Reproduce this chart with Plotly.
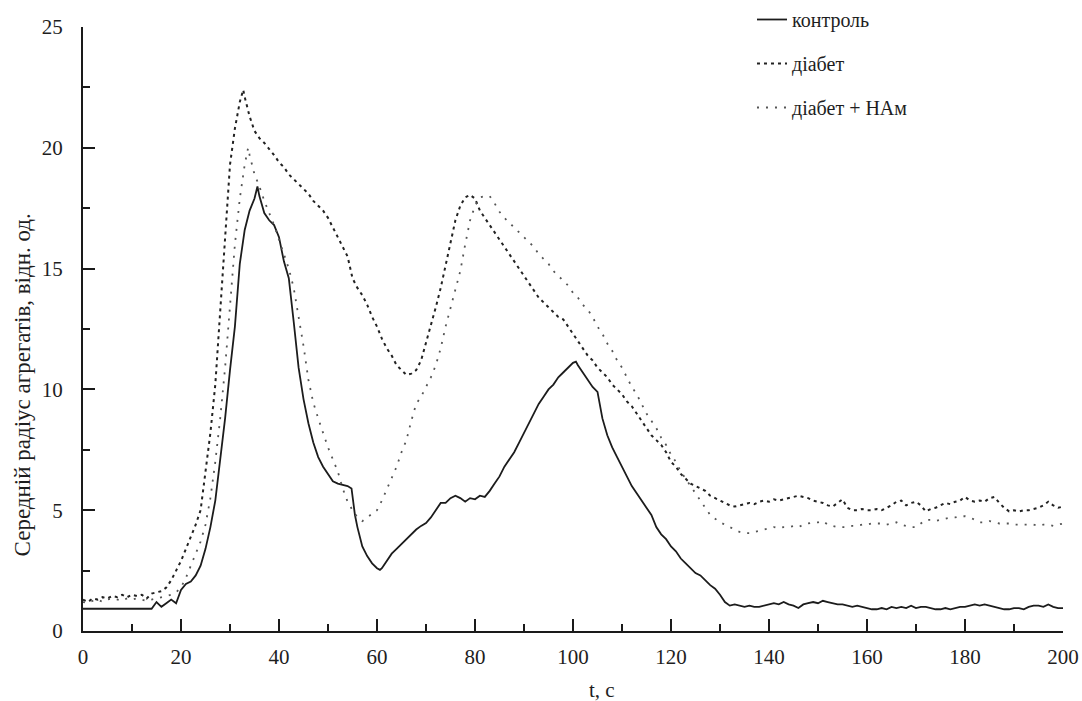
import plotly.graph_objects as go

# ---- data ----
t_control = [0, 2, 4, 6, 8, 10, 12, 14, 15, 16, 17, 18, 19, 20, 21, 22, 23, 24, 25, 26, 27, 28, 29, 30,
             31, 32, 33, 34, 35, 35.6, 36, 37, 38, 39, 40, 41, 42, 43, 44, 45, 46, 47, 48, 49, 50, 51, 52,
             53, 54, 54.8, 55.5, 56, 57, 58, 59, 60, 60.6, 61, 62, 63, 64, 65, 66, 67, 68, 69, 70, 71, 72,
             73, 74, 75, 76, 77, 78, 79, 80, 81, 82, 83, 84, 85, 86, 87, 88, 89, 90, 91, 92, 93, 94, 95,
             96, 97, 98, 99, 100, 100.6, 101, 102, 103, 104, 105, 106, 107, 108, 109, 110, 111, 112, 113,
             114, 115, 116, 117, 118, 119, 120, 121, 122, 123, 124, 125, 126, 127, 128, 129, 130, 131, 132,
             133, 134, 135, 136, 137, 138, 139, 140, 141, 142, 143, 144, 145, 146, 147, 148, 149, 150, 151,
             152, 153, 154, 155, 156, 157, 158, 159, 160, 161, 162, 163, 164, 165, 166, 167, 168, 169, 170,
             171, 172, 173, 174, 175, 176, 177, 178, 179, 180, 181, 182, 183, 184, 185, 186, 187, 188, 189,
             190, 191, 192, 193, 194, 195, 196, 197, 198, 199, 200]
v_control = [0.92, 0.92, 0.92, 0.92, 0.92, 0.92, 0.92, 0.92, 1.2, 1.0, 1.15, 1.3, 1.15, 1.7, 1.95, 2.05, 2.3,
             2.7, 3.4, 4.3, 5.4, 7.0, 8.8, 10.8, 12.6, 15.2, 16.6, 17.4, 17.9, 18.4, 18.0, 17.3, 17.0, 16.8,
             16.3, 15.3, 14.6, 12.8, 10.9, 9.6, 8.6, 7.8, 7.2, 6.8, 6.5, 6.2, 6.1, 6.05, 6.0, 5.9, 4.8, 4.3,
             3.5, 3.1, 2.8, 2.6, 2.53, 2.6, 2.9, 3.2, 3.4, 3.6, 3.8, 4.0, 4.2, 4.35, 4.47, 4.7, 5.0, 5.3,
             5.3, 5.5, 5.6, 5.5, 5.35, 5.5, 5.45, 5.6, 5.55, 5.8, 6.1, 6.4, 6.8, 7.1, 7.4, 7.8, 8.2, 8.6,
             9.0, 9.4, 9.7, 10.0, 10.2, 10.5, 10.7, 10.9, 11.1, 11.15, 11.0, 10.7, 10.4, 10.1, 9.9, 8.8,
             8.1, 7.6, 7.2, 6.8, 6.4, 6.0, 5.7, 5.4, 5.1, 4.8, 4.3, 4.0, 3.8, 3.5, 3.3, 3.0, 2.8, 2.6, 2.4,
             2.3, 2.1, 1.9, 1.75, 1.5, 1.2, 1.05, 1.1, 1.05, 1.0, 1.05, 1.0, 1.0, 1.05, 1.1, 1.15, 1.1, 1.2,
             1.1, 1.05, 0.95, 1.1, 1.15, 1.2, 1.15, 1.25, 1.2, 1.15, 1.1, 1.1, 1.05, 1.0, 1.05, 1.0, 0.95,
             0.9, 0.9, 0.95, 0.9, 1.0, 0.95, 1.0, 0.95, 1.05, 0.95, 1.0, 1.0, 0.95, 0.9, 0.9, 0.95, 0.9,
             0.95, 1.0, 1.0, 1.05, 1.1, 1.05, 1.1, 1.05, 1.0, 0.95, 0.9, 0.9, 0.95, 0.95, 0.9, 1.0, 1.05,
             1.05, 1.0, 1.1, 1.0, 0.95, 0.95]

t_diabet = [0, 1, 2, 3, 4, 5, 6, 7, 8, 9, 10, 11, 12, 13, 14, 15, 16, 17, 18, 19, 20, 21, 22, 23, 24, 25,
            26, 27, 28, 29, 30, 31, 32, 32.7, 33, 34, 35, 36, 37, 38, 39, 40, 41, 42, 43, 44, 45, 46, 47, 48,
            49, 50, 51, 52, 53, 54, 55, 56, 57, 58, 59, 60, 61, 62, 63, 64, 65, 66, 67, 68, 69, 70, 71, 72,
            73, 74, 75, 76, 77, 78, 79, 80, 81, 82, 83, 84, 85, 86, 87, 88, 89, 90, 91, 92, 93, 94, 95, 96,
            97, 98, 99, 100, 101, 102, 103, 104, 105, 106, 107, 108, 109, 110, 111, 112, 113, 114, 115, 116,
            117, 118, 119, 120, 121, 122, 123, 124, 125, 126, 127, 128, 129, 130, 131, 132, 133, 134, 135,
            136, 137, 138, 139, 140, 141, 142, 143, 144, 145, 146, 147, 148, 149, 150, 151, 152, 153, 154,
            155, 156, 157, 158, 159, 160, 161, 162, 163, 164, 165, 166, 167, 168, 169, 170, 171, 172, 173,
            174, 175, 176, 177, 178, 179, 180, 181, 182, 183, 184, 185, 186, 187, 188, 189, 190, 191, 192,
            193, 194, 195, 196, 197, 198, 199, 200]
v_diabet = [1.3, 1.2, 1.35, 1.3, 1.4, 1.35, 1.45, 1.4, 1.5, 1.4, 1.5, 1.45, 1.5, 1.35, 1.55, 1.6, 1.65,
            1.8, 2.1, 2.5, 2.9, 3.4, 3.9, 4.4, 5.0, 6.5, 8.2, 10.2, 13.2, 16.5, 19.3, 20.8, 21.9, 22.4,
            22.1, 21.3, 20.7, 20.4, 20.2, 19.95, 19.7, 19.4, 19.2, 18.9, 18.7, 18.5, 18.3, 18.1, 17.8,
            17.6, 17.4, 17.1, 16.7, 16.3, 15.9, 15.5, 14.6, 14.2, 13.9, 13.5, 13.0, 12.6, 12.1, 11.7,
            11.4, 11.0, 10.8, 10.6, 10.65, 10.8, 11.2, 11.9, 12.7, 13.4, 14.2, 15.1, 16.1, 17.0, 17.6,
            17.95, 18.05, 17.9, 17.4, 17.1, 16.8, 16.5, 16.2, 15.9, 15.6, 15.3, 15.0, 14.7, 14.4, 14.1,
            13.8, 13.6, 13.4, 13.2, 13.0, 12.9, 12.6, 12.3, 12.0, 11.7, 11.4, 11.2, 10.9, 10.7, 10.5,
            10.2, 10.0, 9.8, 9.5, 9.3, 9.0, 8.7, 8.4, 8.1, 7.9, 7.7, 7.4, 7.0, 6.8, 6.5, 6.3, 6.1, 6.0,
            5.9, 5.8, 5.6, 5.5, 5.4, 5.3, 5.2, 5.15, 5.2, 5.25, 5.3, 5.25, 5.35, 5.4, 5.35, 5.45, 5.4,
            5.45, 5.5, 5.55, 5.6, 5.55, 5.5, 5.4, 5.35, 5.3, 5.2, 5.15, 5.3, 5.45, 5.1, 5.0, 5.0, 5.05,
            5.0, 5.0, 5.05, 5.0, 5.1, 5.2, 5.35, 5.4, 5.2, 5.3, 5.35, 5.2, 4.95, 5.05, 5.1, 5.2, 5.3,
            5.25, 5.35, 5.4, 5.55, 5.4, 5.35, 5.4, 5.35, 5.5, 5.55, 5.3, 5.1, 4.95, 5.0, 4.95, 5.0, 5.0,
            5.05, 5.1, 5.2, 5.35, 5.2, 5.1, 5.15]

t_nam = [0, 1, 2, 3, 4, 5, 6, 7, 8, 9, 10, 11, 12, 13, 14, 15, 16, 17, 18, 19, 20, 21, 22, 23, 24, 25, 26,
         27, 28, 29, 30, 31, 32, 33, 33.7, 34, 35, 36, 37, 38, 39, 40, 41, 42, 43, 44, 45, 46, 47, 48, 49,
         50, 51, 52, 53, 54, 55, 56, 57, 58, 59, 60, 61, 62, 63, 64, 65, 66, 67, 68, 69, 70, 71, 72, 73,
         74, 75, 76, 77, 78, 79, 80, 81, 82, 83, 84, 85, 86, 87, 88, 89, 90, 91, 92, 93, 94, 95, 96, 97,
         98, 99, 100, 101, 102, 103, 104, 105, 106, 107, 108, 109, 110, 111, 112, 113, 114, 115, 116, 117,
         118, 119, 120, 121, 122, 123, 124, 125, 126, 127, 128, 129, 130, 131, 132, 133, 134, 135, 136,
         137, 138, 139, 140, 141, 142, 143, 144, 145, 146, 147, 148, 149, 150, 151, 152, 153, 154, 155,
         156, 157, 158, 159, 160, 161, 162, 163, 164, 165, 166, 167, 168, 169, 170, 171, 172, 173, 174,
         175, 176, 177, 178, 179, 180, 181, 182, 183, 184, 185, 186, 187, 188, 189, 190, 191, 192, 193,
         194, 195, 196, 197, 198, 199, 200]
v_nam = [1.2, 1.15, 1.25, 1.3, 1.2, 1.3, 1.35, 1.3, 1.25, 1.35, 1.3, 1.35, 1.3, 1.25, 1.3, 1.35, 1.4, 1.45,
         1.5, 1.6, 1.8, 2.2, 2.7, 3.2, 3.7, 4.4, 5.5, 7.0, 8.8, 10.9, 13.6, 16.0, 17.9, 19.3, 20.0, 19.7,
         18.9, 18.4, 17.8, 17.3, 16.8, 16.2, 15.6, 15.0, 14.2, 13.0, 11.8, 10.4, 9.45, 8.8, 8.2, 7.6, 7.1,
         6.6, 5.9, 5.35, 5.0, 4.7, 4.55, 4.7, 4.85, 5.0, 5.4, 5.85, 6.3, 6.8, 7.4, 7.9, 8.7, 9.4, 9.7,
         10.1, 10.5, 11.0, 11.7, 12.6, 13.4, 14.1, 14.9, 16.0, 17.0, 17.6, 17.95, 18.0, 18.0, 17.7, 17.35,
         17.1, 16.9, 16.7, 16.5, 16.3, 16.1, 15.9, 15.6, 15.4, 15.2, 14.9, 14.7, 14.5, 14.3, 14.0, 13.8,
         13.5, 13.3, 13.0, 12.6, 12.3, 11.9, 11.6, 11.2, 10.9, 10.5, 10.1, 9.8, 9.4, 9.0, 8.7, 8.4, 8.0,
         7.7, 7.3, 7.0, 6.6, 6.3, 6.0, 5.7, 5.4, 5.1, 4.8, 4.65, 4.5, 4.4, 4.3, 4.2, 4.1, 4.05, 4.05, 4.1,
         4.15, 4.2, 4.25, 4.3, 4.25, 4.3, 4.3, 4.35, 4.3, 4.4, 4.45, 4.5, 4.5, 4.55, 4.4, 4.35, 4.3, 4.3,
         4.3, 4.35, 4.35, 4.4, 4.4, 4.45, 4.45, 4.45, 4.4, 4.45, 4.5, 4.4, 4.35, 4.3, 4.3, 4.45, 4.6, 4.6,
         4.55, 4.6, 4.65, 4.7, 4.7, 4.75, 4.75, 4.7, 4.6, 4.5, 4.5, 4.55, 4.5, 4.45, 4.45, 4.45, 4.4, 4.4,
         4.4, 4.4, 4.4, 4.35, 4.4, 4.4, 4.35, 4.4, 4.45]

series_names = ["контроль", "діабет", "діабет + НАм"]
x_ticks = [0, 20, 40, 60, 80, 100, 120, 140, 160, 180, 200]
y_ticks = [0, 5, 10, 15, 20, 25]
x_title = "t, c"
y_title = "Середній радіус агрегатів, відн. од."

FONT = "Liberation Serif"
INK = "#1e1e1e"

fig = go.Figure()
fig.add_trace(go.Scatter(x=t_control, y=v_control, mode="lines", name=series_names[0],
                         legendgroup="a", line=dict(color="#1c1c1c", width=1.8)))
fig.add_trace(go.Scatter(x=t_diabet, y=v_diabet, mode="lines", name=series_names[1],
                         legendgroup="b", line=dict(color="#222222", width=2, dash="3px,4px")))
fig.add_trace(go.Scatter(x=t_nam, y=v_nam, mode="lines", name=series_names[2],
                         legendgroup="c", line=dict(color="#555555", width=1.8, dash="2px,7px")))

fig.update_layout(
    width=1082, height=701,
    margin=dict(l=83, r=19, t=27, b=70, autoexpand=False),
    paper_bgcolor="white", plot_bgcolor="white",
    font=dict(family=FONT, size=20, color=INK),
    showlegend=True,
    legend=dict(xref="container", yref="container", x=0.695, y=1.0, xanchor="left", yanchor="top",
                bgcolor="rgba(0,0,0,0)", font=dict(family=FONT, size=20, color=INK),
                traceorder="grouped", tracegroupgap=15),
    xaxis=dict(range=[0, 200], tickvals=x_ticks, showgrid=False, zeroline=False, automargin=False,
               showline=True, linecolor="#1a1a1a", linewidth=2,
               ticks="inside", ticklen=12, tickwidth=2, tickcolor="#1a1a1a",
               minor=dict(dtick=10, tick0=0, ticks="inside", ticklen=7, tickwidth=2, tickcolor="#1a1a1a"),
               ticklabelstandoff=6, tickfont=dict(family=FONT, size=21)),
    yaxis=dict(range=[0, 25], tickvals=y_ticks, showgrid=False, zeroline=False, automargin=False,
               showline=True, linecolor="#1a1a1a", linewidth=2,
               ticks="inside", ticklen=12, tickwidth=2, tickcolor="#1a1a1a",
               minor=dict(dtick=2.5, tick0=0, ticks="inside", ticklen=7, tickwidth=2, tickcolor="#1a1a1a"),
               ticklabelstandoff=14, tickfont=dict(family=FONT, size=21)),
)

fig.add_annotation(text=y_title, textangle=-90,
                   xref="paper", yref="paper", x=-0.062, y=0.407, xanchor="center", yanchor="middle",
                   showarrow=False, font=dict(family=FONT, size=23, color=INK))
fig.add_annotation(text=x_title,
                   xref="paper", yref="paper", x=0.53, y=-0.098, xanchor="center", yanchor="middle",
                   showarrow=False, font=dict(family=FONT, size=21, color=INK))

fig.write_html("out.html")
